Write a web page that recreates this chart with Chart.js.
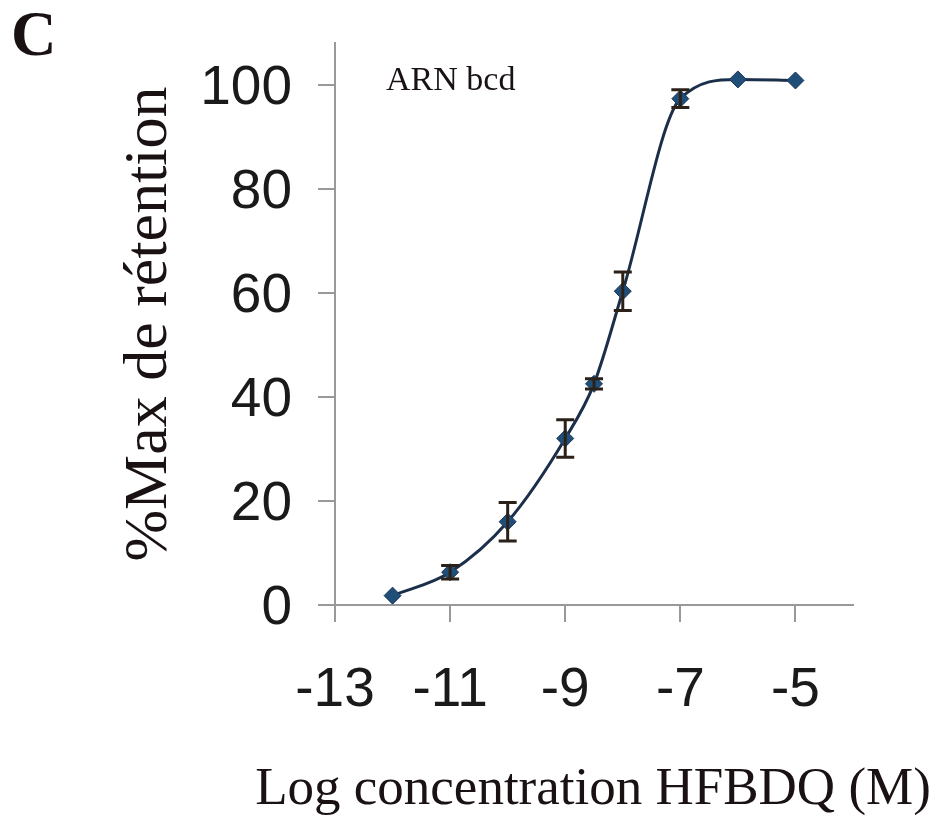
<!DOCTYPE html>
<html>
<head>
<meta charset="utf-8">
<script src="https://cdn.jsdelivr.net/npm/chart.js@4/dist/chart.umd.min.js"></script>
<style>
    body { margin: 0; background: #fff; }
    #wrap { position: relative; width: 946px; height: 836px; }
    #panel { position: absolute; left: 11px; top: -2px; font: bold 63px "Liberation Serif", serif; color: #1a1212; }
    #label { position: absolute; left: 386px; top: 60px; font: 34px "Liberation Serif", serif; color: #1a1212; }
    #xtitle { position: absolute; left: 0; width: 1186px; top: 756px; line-height: 53px; text-align: center;
              font: 53px "Liberation Serif", serif; color: #1a1212; white-space: nowrap; }
</style>
</head>
<body>
<div id="wrap">
    <canvas id="chart" width="946" height="836"></canvas>
    <div id="panel">C</div>
    <div id="label">ARN bcd</div>
    <div id="xtitle">Log concentration HFBDQ (M)</div>
</div>
<script>
const logConc = [-12, -11, -10, -9, -8.5, -8, -7, -6, -5]
const retention = [1.8, 6.3, 16, 32, 42.5, 60.3, 97.3, 101, 100.8]
const errors = [0, 1.3, 3.7, 3.6, 1.0, 3.7, 1.7, 0, 0]
const xTicks = [-13, -11, -9, -7, -5]
const yTicks = [0, 20, 40, 60, 80, 100]

const errorBars = {
    id: "errorBars",
    afterDatasetsDraw(chart) {
        const ctx = chart.ctx
        const x = chart.scales.x
        const y = chart.scales.y
        ctx.save()
        ctx.strokeStyle = "#2b2118"
        ctx.lineWidth = 3
        logConc.forEach((c, i) => {
            if (!errors[i]) return
            const px = x.getPixelForValue(c)
            const top = y.getPixelForValue(retention[i] + errors[i])
            const bot = y.getPixelForValue(retention[i] - errors[i])
            ctx.beginPath()
            ctx.moveTo(px, top); ctx.lineTo(px, bot)
            ctx.moveTo(px - 9, top); ctx.lineTo(px + 9, top)
            ctx.moveTo(px - 9, bot); ctx.lineTo(px + 9, bot)
            ctx.stroke()
        })
        ctx.restore()
    }
}

// tick label padding would otherwise push the plot area around
function noPad(s) {
    s.paddingTop = 0
    s.paddingBottom = 0
    s.paddingLeft = 0
    s.paddingRight = 0
}

new Chart(document.getElementById("chart"), {
    type: "scatter",
    data: {
        datasets: [{
            data: logConc.map((c, i) => ({ x: c, y: retention[i] })),
            showLine: true,
            cubicInterpolationMode: "monotone",
            borderColor: "#1c2f4a",
            borderWidth: 3,
            pointStyle: "rectRot",
            pointRadius: 8.5,
            pointBackgroundColor: "#1f4e79",
            pointBorderColor: "#1c3558",
            pointBorderWidth: 1
        }]
    },
    options: {
        responsive: false,
        animation: false,
        layout: { padding: { left: 100, right: 93, top: 43, bottom: 20 } },
        plugins: { legend: { display: false }, tooltip: { enabled: false } },
        scales: {
            x: {
                type: "linear",
                min: -13,
                max: -4,
                afterBuildTicks: s => { s.ticks = xTicks.map(v => ({ value: v })) },
                afterFit: s => { s.height = 836 - 20 - 605; noPad(s) },
                border: { color: "#999", width: 2 },
                grid: { drawOnChartArea: false, color: "#999", lineWidth: 2, tickLength: 17 },
                ticks: { color: "#1a1a1a", padding: 36, font: { family: "Liberation Sans", size: 55 } }
            },
            y: {
                min: 0,
                max: 108,
                afterBuildTicks: s => { s.ticks = yTicks.map(v => ({ value: v })) },
                afterFit: s => { s.width = 335 - 100; noPad(s) },
                border: { color: "#999", width: 2 },
                grid: { drawOnChartArea: false, color: "#999", lineWidth: 2, tickLength: 17 },
                ticks: { color: "#1a1a1a", padding: 26, labelOffset: 4, font: { family: "Liberation Sans", size: 55 } },
                title: {
                    display: true,
                    text: "%Max de rétention",
                    color: "#1a1212",
                    padding: { top: 13, bottom: 0 },
                    font: { family: "Liberation Serif", size: 62 }
                }
            }
        }
    },
    plugins: [errorBars]
})
</script>
</body>
</html>
